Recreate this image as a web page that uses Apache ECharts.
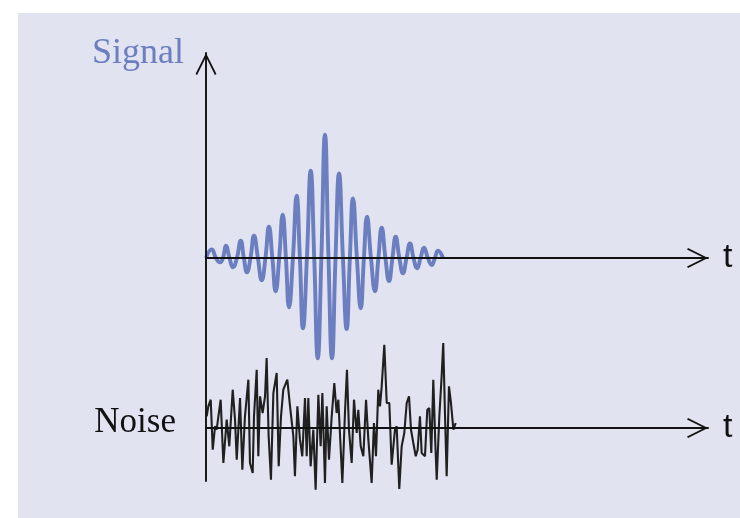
<!DOCTYPE html>
<html>
<head>
<meta charset="utf-8">
<script src="https://cdn.jsdelivr.net/npm/echarts@6/dist/echarts.min.js"></script>
<style>
  html, body { margin: 0; padding: 0; background: #ffffff; }
  #chart { width: 740px; height: 518px; }
</style>
</head>
<body>
<div id="chart"></div>
<script>
// Wave packet: extrema and baseline crossings (time, amplitude)
const signalT = [0.00, 0.57, 0.99, 1.39, 1.69, 1.99, 2.34, 2.69, 3.08, 3.46, 3.77, 4.08, 4.43, 4.78, 5.17, 5.55, 5.92,
  6.27, 6.61, 6.94, 7.29, 7.64, 7.96, 8.27, 8.66, 9.03, 9.35, 9.66, 10.05, 10.43, 10.78, 11.13, 11.49,
  11.85, 12.20, 12.55, 12.90, 13.25, 13.64, 14.01, 14.33, 14.64, 15.03, 15.41, 15.73, 16.04, 16.43,
  16.83, 17.17, 17.50, 17.87, 18.23, 18.57, 18.89, 19.26, 19.62, 19.97, 20.32, 20.67, 21.02, 21.37,
  21.71, 22.10, 22.48, 22.80, 23.11, 23.61];
const signalAmp = [0, 0.086, 0, -0.043, 0, 0.123, 0, -0.093, 0, 0.173, 0, -0.143, 0, 0.223, 0, -0.223, 0,
  0.313, 0, -0.333, 0, 0.433, 0, -0.493, 0, 0.623, 0, -0.703, 0, 0.873, 0, -1.003, 0,
  1.233, 0, -1.003, 0, 0.846, 0, -0.71, 0, 0.596, 0, -0.503, 0, 0.413, 0,
  -0.333, 0, 0.303, 0, -0.23, 0, 0.213, 0, -0.153, 0, 0.146, 0, -0.103, 0,
  0.103, 0, -0.07, 0, 0.073, 0];

// Noise trace (time, amplitude)
const noiseT = [0.07, 0.23, 0.47, 0.67, 0.90, 1.06, 1.46, 1.73, 2.06, 2.32, 2.66, 2.89, 3.06, 3.39, 3.62, 3.88,
  4.22, 4.38, 4.65, 4.78, 5.05, 5.21, 5.38, 5.64, 5.88, 6.04, 6.24, 6.47, 6.71, 7.04, 7.24, 7.47,
  7.70, 8.10, 8.37, 8.70, 8.86, 9.10, 9.36, 9.59, 9.86, 10.03, 10.19, 10.42, 10.69, 10.92, 11.19,
  11.42, 11.59, 11.85, 12.02, 12.25, 12.52, 12.78, 13.01, 13.18, 13.58, 13.84, 14.04, 14.24, 14.51,
  14.74, 15.01, 15.17, 15.41, 15.67, 15.94, 16.17, 16.50, 16.73, 16.93, 17.16, 17.33, 17.50, 17.76,
  18.00, 18.26, 18.49, 18.82, 18.99, 19.25, 19.49, 19.75, 19.99, 20.22, 20.42, 20.65, 20.89, 21.08,
  21.31, 21.48, 21.81, 22.04, 22.24, 22.44, 22.64, 22.84, 22.98, 23.24, 23.47, 23.63, 23.80, 23.97,
  24.20, 24.40, 24.64, 24.87];
const noiseAmp = [0.117, 0.217, 0.283, -0.217, 0.017, -0.017, 0.283, -0.35, 0.083, -0.183, 0.383, 0.083, -0.317, 0.30, -0.417, 0.117,
  0.483, -0.35, -0.45, 0.117, 0.583, -0.283, 0.317, 0.15, 0.317, 0.70, -0.083, -0.517, 0.35, 0.55, -0.383, 0.117,
  0.383, 0.483, 0.217, -0.083, -0.483, 0.217, -0.117, -0.283, 0.30, -0.283, 0.30, -0.383, -0.017, -0.617, 0.333,
  -0.183, 0.35, -0.55, 0.217, -0.317, 0.117, 0.45, 0.15, 0.283, -0.55, 0.15, 0.583, -0.017, -0.35,
  0.283, -0.05, 0.183, -0.183, -0.283, 0.283, -0.117, -0.55, 0.05, -0.283, 0.383, 0.217, 0.417, 0.833,
  0.25, 0.25, -0.367, -0.017, 0.017, -0.61, -0.183, -0.05, 0.25, 0.317, -0.017, -0.15, -0.283, -0.217,
  0.117, -0.25, -0.283, 0.183, 0.20, -0.25, 0.483, -0.15, -0.517, 0.117, 0.517, 0.85, 0.15, -0.483,
  0.417, 0.25, -0.017, 0.05];

const axisLabelT = 't';
const signalName = 'Signal';
const noiseName = 'Noise';

const BLUE = '#6b7ec0';
const INK = '#111111';
// Open chevron arrowhead, pointing along the axis
const CHEVRON = 'path://M0,20 L10,0 L20,20 L18.5,21 L10,3.8 L1.5,21 Z';

const pairs = (xs, ys) => xs.map((x, i) => [x, ys[i]]);

const hiddenParts = {
  axisTick: { show: false },
  axisLabel: { show: false },
  splitLine: { show: false }
};

const timeAxis = (gridIndex) => Object.assign({
  type: 'value',
  gridIndex: gridIndex,
  min: 0,
  max: 50,
  z: 5,
  name: axisLabelT,
  nameLocation: 'end',
  nameGap: 15,
  nameTextStyle: {
    fontFamily: 'Liberation Sans',
    fontSize: 34,
    color: INK,
    padding: [0, 0, 4, 0]
  },
  axisLine: {
    show: true,
    onZero: true,
    symbol: ['none', CHEVRON],
    symbolSize: [21, 21],
    symbolOffset: [0, -10.5],
    lineStyle: { color: INK, width: 1.9 }
  }
}, hiddenParts);

const chart = echarts.init(document.getElementById('chart'), null, { renderer: 'canvas' });

chart.setOption({
  animation: false,
  backgroundColor: '#ffffff',
  graphic: [{
    type: 'rect',
    left: 18,
    top: 13,
    z: -10,
    shape: { width: 722, height: 505 },
    style: { fill: '#e2e3f1' }
  }],
  grid: [
    { left: 206, right: 32, top: 53, bottom: 37 },
    { left: 206, right: 32, top: 338, bottom: 0 }
  ],
  xAxis: [timeAxis(0), timeAxis(1)],
  yAxis: [
    Object.assign({
      type: 'value',
      gridIndex: 0,
      min: -2.23,
      max: 2.05,
      z: 5,
      name: signalName,
      nameLocation: 'end',
      nameGap: -1,
      nameTextStyle: {
        fontFamily: 'Liberation Serif',
        fontSize: 36,
        color: BLUE,
        align: 'right',
        verticalAlign: 'middle',
        padding: [0, 22, 0, 0]
      },
      axisLine: {
        show: true,
        onZero: true,
        symbol: ['none', CHEVRON],
        symbolSize: [21, 22],
        symbolOffset: [0, -11],
        lineStyle: { color: INK, width: 1.9 }
      }
    }, hiddenParts),
    Object.assign({
      type: 'value',
      gridIndex: 1,
      min: -0.9,
      max: 0.9,
      name: noiseName,
      nameLocation: 'end',
      nameGap: -85,
      nameTextStyle: {
        fontFamily: 'Liberation Serif',
        fontSize: 35,
        color: INK,
        align: 'right',
        verticalAlign: 'middle',
        padding: [0, 30, 0, 0]
      },
      axisLine: { show: false }
    }, hiddenParts)
  ],
  series: [
    {
      type: 'line',
      xAxisIndex: 0,
      yAxisIndex: 0,
      data: pairs(signalT, signalAmp),
      smooth: 0.5,
      showSymbol: false,
      clip: false,
      lineStyle: { color: BLUE, width: 3.9 }
    },
    {
      type: 'line',
      xAxisIndex: 1,
      yAxisIndex: 1,
      data: pairs(noiseT, noiseAmp),
      showSymbol: false,
      clip: false,
      lineStyle: { color: '#202020', width: 2.1 }
    }
  ]
});
</script>
</body>
</html>
